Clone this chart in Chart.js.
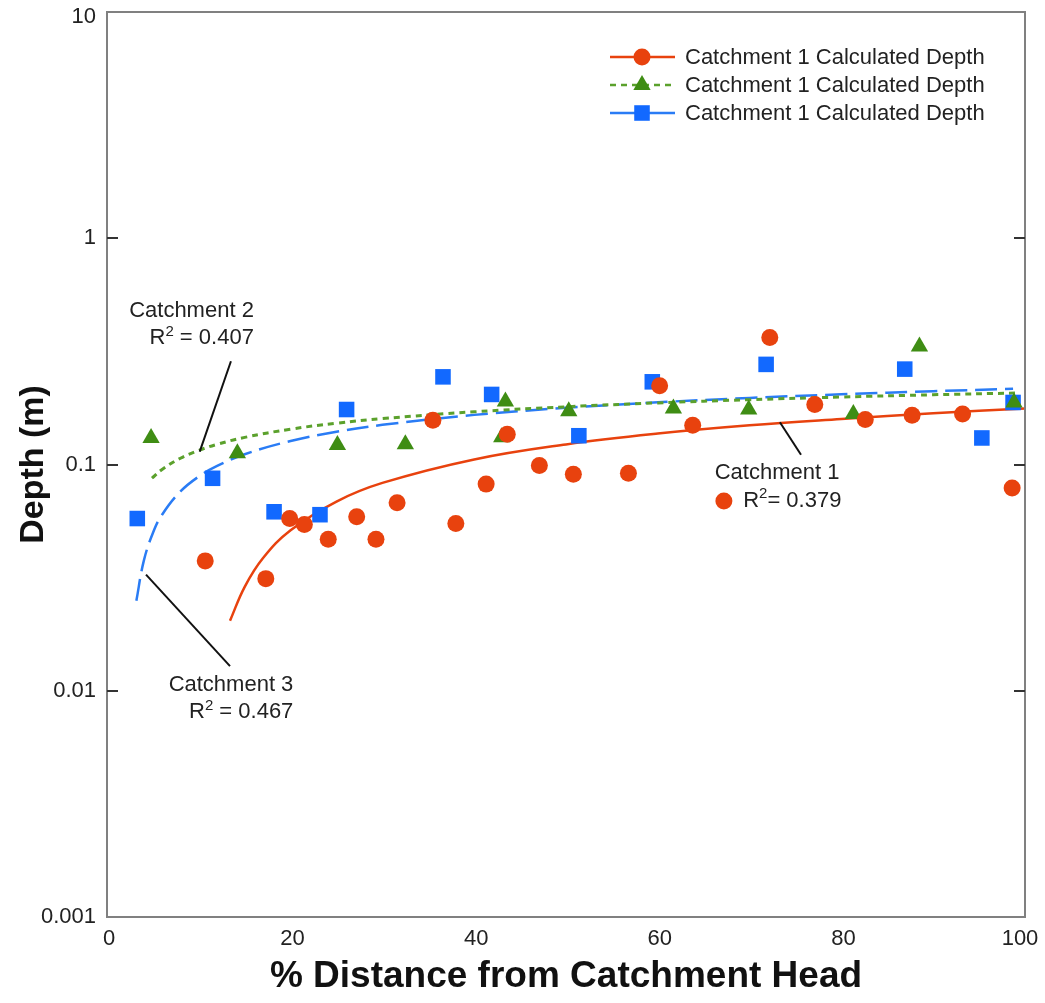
<!DOCTYPE html>
<html>
<head>
<meta charset="utf-8">
<script src="https://cdn.jsdelivr.net/npm/chart.js@4.4.1/dist/chart.umd.min.js"></script>
<style>
    html, body { margin: 0; padding: 0; background: #fff; }
    #wrap { width: 1045px; height: 1003px; }
</style>
</head>
<body>
<div id="wrap"><canvas id="chart" width="1045" height="1003"></canvas></div>
<script>
// Catchment 1 (red circles)
const c1X = [10.7, 17.3, 19.9, 21.5, 24.1, 27.2, 29.3, 31.6, 35.5, 38.0, 41.3, 43.6, 47.1, 50.8, 56.8, 60.2, 63.8, 72.2, 77.1, 82.6, 87.7, 93.2, 98.6];
const c1Depth = [0.0375, 0.0313, 0.0577, 0.0543, 0.0467, 0.0588, 0.0467, 0.0677, 0.157, 0.0548, 0.0819, 0.136, 0.099, 0.0905, 0.0914, 0.223, 0.149, 0.364, 0.184, 0.158, 0.165, 0.167, 0.0787];

// Catchment 2 (green triangles)
const c2X = [4.8, 14.2, 25.1, 32.5, 43.0, 43.4, 50.3, 61.7, 69.9, 81.3, 88.5, 98.8];
const c2Depth = [0.131, 0.112, 0.122, 0.123, 0.132, 0.190, 0.172, 0.177, 0.175, 0.167, 0.332, 0.188];

// Catchment 3 (blue squares)
const c3X = [3.3, 11.5, 18.2, 23.2, 26.1, 36.6, 41.9, 51.4, 59.4, 71.8, 86.9, 95.3, 98.7];
const c3Depth = [0.0577, 0.0869, 0.0618, 0.060, 0.175, 0.244, 0.204, 0.134, 0.232, 0.277, 0.264, 0.131, 0.188];

// trend lines
const fit1X = [13.4, 15, 17, 20, 25, 30, 40, 50, 60, 70, 80, 90, 100];
const fit1Depth = [0.0204, 0.0288, 0.0386, 0.0512, 0.0686, 0.0829, 0.1053, 0.1227, 0.137, 0.149, 0.159, 0.1686, 0.1768];
const fit2X = [4.9, 6, 8, 10, 12, 15, 20, 25, 30, 40, 50, 60, 70, 80, 90, 99.2];
const fit2Depth = [0.087, 0.0951, 0.1066, 0.1155, 0.1228, 0.1318, 0.1433, 0.1522, 0.1595, 0.171, 0.1799, 0.1872, 0.1934, 0.1987, 0.2034, 0.207];
const fit3X = [3.2, 4, 5, 6, 8, 10, 12, 15, 20, 25, 30, 40, 50, 60, 70, 80, 90, 98.7];
const fit3Depth = [0.025, 0.0374, 0.0498, 0.060, 0.076, 0.0885, 0.0986, 0.111, 0.127, 0.1395, 0.1497, 0.1657, 0.178, 0.1883, 0.1969, 0.2043, 0.2109, 0.216];

const yTickValues = [0.001, 0.01, 0.1, 1, 10];
const yTickLabels = ['0.001', '0.01', '0.1', '1', '10'];
const xTickValues = [0, 20, 40, 60, 80, 100];
const xTickLabels = ['0', '20', '40', '60', '80', '100'];

const legendLabels = ['Catchment 1 Calculated Depth', 'Catchment 1 Calculated Depth', 'Catchment 1 Calculated Depth'];

const RED = '#e8420e';
const GREEN = '#3f8d14';
const GREEN_LINE = '#5ba12c';
const BLUE = '#1269ff';
const BLUE_LINE = '#2a7cf5';
const FONT = '"Liberation Sans", Arial, sans-serif';
const TEXT_FONT = '22px ' + FONT;

function toPoints(xs, ys) {
    return xs.map((x, i) => ({ x: x, y: ys[i] }));
}

// little marker painter, used by the legend and the R2 note
function paintMarker(ctx, style, x, y, r, color) {
    ctx.fillStyle = color;
    ctx.beginPath();
    if (style === 'circle') {
        ctx.arc(x, y, r, 0, Math.PI * 2);
    } else if (style === 'triangle') {
        ctx.moveTo(x, y - r);
        ctx.lineTo(x + r * 0.866, y + r * 0.5);
        ctx.lineTo(x - r * 0.866, y + r * 0.5);
        ctx.closePath();
    } else {
        const s = r * Math.SQRT1_2;
        ctx.rect(x - s, y - s, s * 2, s * 2);
    }
    ctx.fill();
}

function line(ctx, x1, y1, x2, y2) {
    ctx.beginPath();
    ctx.moveTo(x1, y1);
    ctx.lineTo(x2, y2);
    ctx.stroke();
}

// "R² = 0.407" style text; align 'right' or 'left' at x
function drawR2(ctx, x, y, value, align, sep) {
    const small = '15px ' + FONT;
    const rest = sep + value;
    ctx.textBaseline = 'middle';
    ctx.textAlign = 'left';
    ctx.font = TEXT_FONT;
    const wR = ctx.measureText('R').width;
    const wRest = ctx.measureText(rest).width;
    ctx.font = small;
    const w2 = ctx.measureText('2').width;
    const total = wR + w2 + wRest;
    const sx = align === 'right' ? x - total : x;
    ctx.font = TEXT_FONT;
    ctx.fillText('R', sx, y);
    ctx.font = small;
    ctx.fillText('2', sx + wR, y - 7);
    ctx.font = TEXT_FONT;
    ctx.fillText(rest, sx + wR + w2, y);
}

const decor = {
    id: 'decor',
    afterDraw(chart) {
        const { ctx, chartArea: a, scales } = chart;
        const sx = scales.x, sy = scales.y;
        const px = v => sx.getPixelForValue(v);
        const py = v => sy.getPixelForValue(v);
        ctx.save();

        // frame
        ctx.strokeStyle = '#808080';
        ctx.lineWidth = 2;
        ctx.strokeRect(a.left, a.top, a.right - a.left, a.bottom - a.top);

        // inward ticks on both sides
        ctx.strokeStyle = '#333';
        yTickValues.forEach(v => {
            const y = Math.round(py(v));
            if (y <= a.top + 2 || y >= a.bottom - 2) return;
            line(ctx, a.left, y, a.left + 11, y);
            line(ctx, a.right - 11, y, a.right, y);
        });

        // tick labels
        ctx.fillStyle = '#222';
        ctx.font = TEXT_FONT;
        ctx.textBaseline = 'middle';
        ctx.textAlign = 'right';
        yTickValues.forEach((v, i) => {
            ctx.fillText(yTickLabels[i], a.left - 11, py(v) + (i === yTickValues.length - 1 ? 5 : 0));
        });
        ctx.textAlign = 'center';
        xTickValues.forEach((v, i) => {
            ctx.fillText(xTickLabels[i], px(v) + (i === xTickValues.length - 1 ? -5 : 2), a.bottom + 22);
        });

        // legend
        const rows = [
            { color: RED, lineColor: RED, dash: [], style: 'circle', r: 8.5 },
            { color: GREEN, lineColor: GREEN_LINE, dash: [6, 5], style: 'triangle', r: 10 },
            { color: BLUE, lineColor: BLUE_LINE, dash: [], style: 'rect', r: 11 }
        ];
        rows.forEach((row, i) => {
            const y = 57 + i * 28;
            ctx.strokeStyle = row.lineColor;
            ctx.lineWidth = 2.5;
            ctx.setLineDash(row.dash);
            line(ctx, 610, y, 675, y);
            ctx.setLineDash([]);
            paintMarker(ctx, row.style, 642, y, row.r, row.color);
            ctx.fillStyle = '#222';
            ctx.font = TEXT_FONT;
            ctx.textAlign = 'left';
            ctx.textBaseline = 'middle';
            ctx.fillText(legendLabels[i], 685, y + 1);
        });

        // annotations
        ctx.strokeStyle = '#111';
        ctx.lineWidth = 2;
        line(ctx, px(13.5), py(0.286), px(10.1), py(0.114));
        line(ctx, px(4.25), py(0.0326), px(13.4), py(0.01285));
        line(ctx, px(73.3), py(0.1538), px(75.6), py(0.1105));

        ctx.fillStyle = '#222';
        ctx.font = TEXT_FONT;
        ctx.textBaseline = 'middle';
        ctx.textAlign = 'right';
        ctx.fillText('Catchment 2', px(16.0), py(0.476));
        drawR2(ctx, px(16.0), py(0.361), '0.407', 'right', ' = ');
        ctx.textAlign = 'right';
        ctx.fillText('Catchment 3', px(20.3), py(0.01062));
        drawR2(ctx, px(20.3), py(0.00802), '0.467', 'right', ' = ');
        ctx.textAlign = 'left';
        ctx.fillText('Catchment 1', px(66.2), py(0.0914));
        paintMarker(ctx, 'circle', px(67.2), py(0.069), 8.5, RED);
        ctx.fillStyle = '#222';
        drawR2(ctx, px(69.3), py(0.069), '0.379', 'left', '= ');

        ctx.restore();
    }
};

function init() {
    const ctx = document.getElementById('chart').getContext('2d');
    new Chart(ctx, {
        type: 'scatter',
        data: {
            datasets: [
                {
                    label: legendLabels[0],
                    data: toPoints(c1X, c1Depth),
                    pointStyle: 'circle',
                    pointRadius: 8.5,
                    backgroundColor: RED,
                    borderWidth: 0,
                    order: 1,
                    clip: false
                },
                {
                    label: legendLabels[1],
                    data: toPoints(c2X, c2Depth),
                    pointStyle: 'triangle',
                    pointRadius: 10,
                    backgroundColor: GREEN,
                    borderWidth: 0,
                    order: 1,
                    clip: false
                },
                {
                    label: legendLabels[2],
                    data: toPoints(c3X, c3Depth),
                    pointStyle: 'rect',
                    pointRadius: 11,
                    backgroundColor: BLUE,
                    borderWidth: 0,
                    order: 1,
                    clip: false
                },
                {
                    type: 'line',
                    data: toPoints(fit1X, fit1Depth),
                    borderColor: RED,
                    borderWidth: 2.5,
                    pointRadius: 0,
                    tension: 0.4,
                    fill: false,
                    order: 2
                },
                {
                    type: 'line',
                    data: toPoints(fit2X, fit2Depth),
                    borderColor: GREEN_LINE,
                    borderWidth: 3,
                    borderDash: [6, 5],
                    pointRadius: 0,
                    tension: 0.4,
                    fill: false,
                    order: 2
                },
                {
                    type: 'line',
                    data: toPoints(fit3X, fit3Depth),
                    borderColor: BLUE_LINE,
                    borderWidth: 2.5,
                    borderDash: [22, 8],
                    pointRadius: 0,
                    tension: 0.4,
                    fill: false,
                    order: 2
                }
            ]
        },
        options: {
            responsive: false,
            animation: false,
            events: [],
            layout: { padding: { left: 0, right: 20, top: 12, bottom: 0 } },
            plugins: {
                legend: { display: false },
                tooltip: { enabled: false }
            },
            scales: {
                x: {
                    type: 'linear',
                    min: 0,
                    max: 100,
                    afterBuildTicks: s => { s.ticks = xTickValues.map(v => ({ value: v })); },
                    afterFit: s => { s.height = 86; },
                    grid: { display: false, drawTicks: false },
                    border: { display: false },
                    ticks: { display: false },
                    title: {
                        display: true,
                        text: '% Distance from Catchment Head',
                        color: '#111',
                        font: { family: FONT, size: 37, weight: 'bold' },
                        padding: { top: 0, bottom: 4 }
                    }
                },
                y: {
                    type: 'logarithmic',
                    min: 0.001,
                    max: 10,
                    afterBuildTicks: s => { s.ticks = yTickValues.map(v => ({ value: v })); },
                    afterFit: s => { s.width = 107; },
                    grid: { display: false, drawTicks: false },
                    border: { display: false },
                    ticks: { display: false },
                    title: {
                        display: true,
                        text: 'Depth (m)',
                        color: '#111',
                        font: { family: FONT, size: 34, weight: 'bold' },
                        padding: { top: 13, bottom: 0 }
                    }
                }
            }
        },
        plugins: [decor]
    });
}

if (document.readyState === 'loading') {
    document.addEventListener('DOMContentLoaded', init);
} else {
    init();
}
</script>
</body>
</html>
